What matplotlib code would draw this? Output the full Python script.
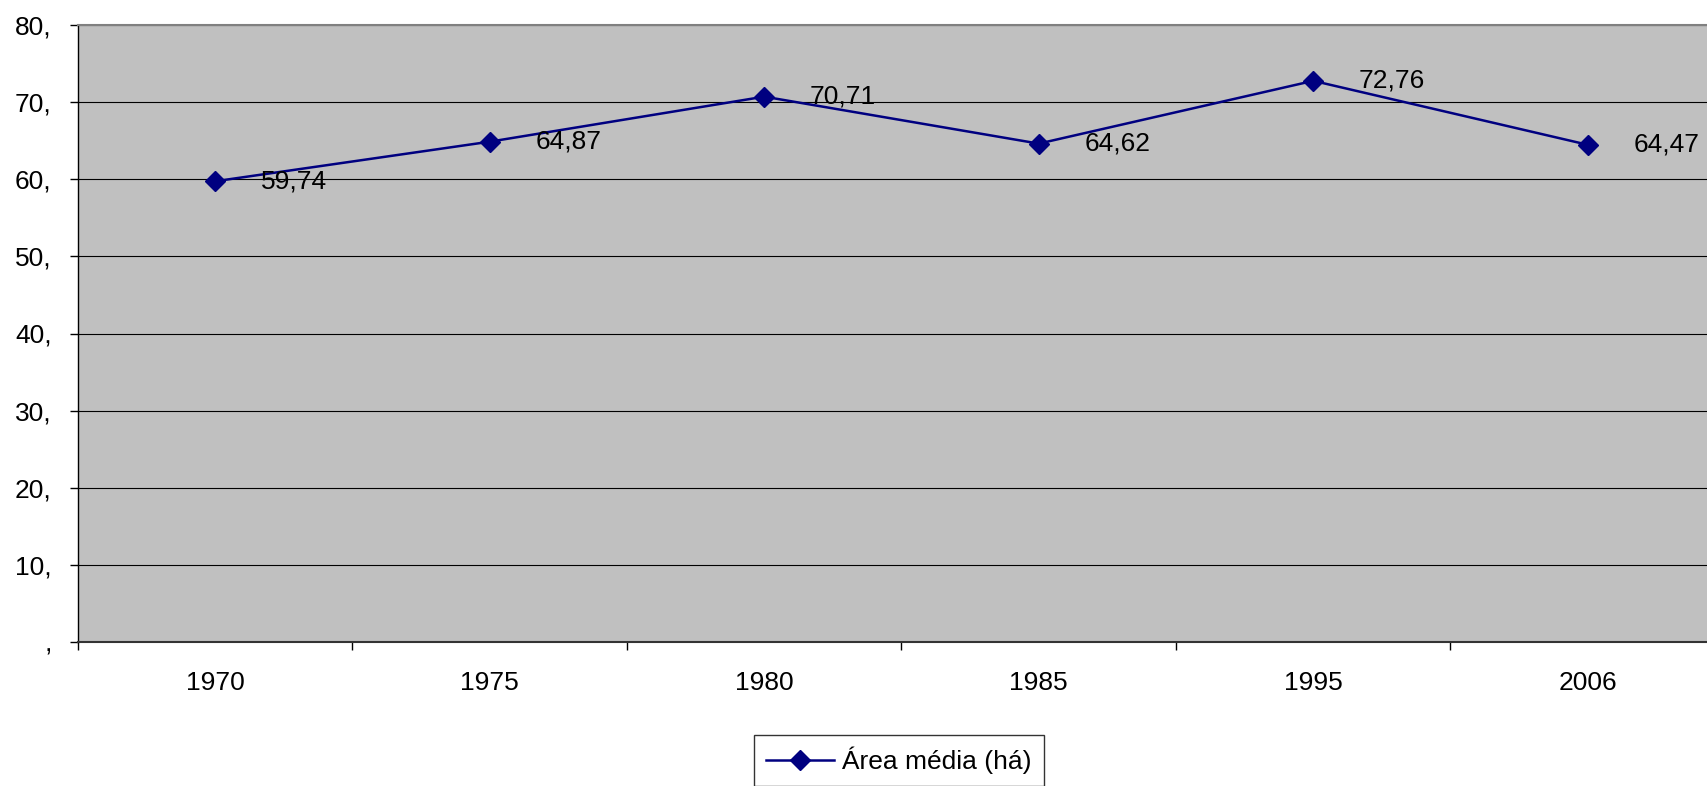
import matplotlib
matplotlib.use("Agg")
import matplotlib.pyplot as plt

years = ["1970", "1975", "1980", "1985", "1995", "2006"]
values = [59.74, 64.87, 70.71, 64.62, 72.76, 64.47]
labels = ["59,74", "64,87", "70,71", "64,62", "72,76", "64,47"]
yticks = [0, 10, 20, 30, 40, 50, 60, 70, 80]
yticklabels = [",", "10,", "20,", "30,", "40,", "50,", "60,", "70,", "80,"]
series_name = "Área média (há)"

plt.rcParams['font.family'] = ['Liberation Sans', 'DejaVu Sans']
FS = 19

W, H = 1708, 786
fig = plt.figure(figsize=(W / 100, H / 100), dpi=100)
left, right, top, bottom = 78, 78 + 6 * 274.5, 25, 642
ax = fig.add_axes([left / W, 1 - bottom / H, (right - left) / W, (bottom - top) / H])
ax.set_facecolor('#C0C0C0')

x = list(range(len(years)))
line, = ax.plot(x, values, color='#000080', lw=1.8, marker='D', ms=10,
                markerfacecolor='#000080', markeredgecolor='#000080', label=series_name, zorder=3)
for xi, v, lab in zip(x, values, labels):
    ax.annotate(lab, (xi, v), xytext=(33, 0), textcoords='offset points',
                ha='left', va='center', fontsize=FS, color='black', zorder=4)

ax.set_xlim(-0.5, len(years) - 0.5)
ax.set_ylim(0, 80)
ax.set_yticks(yticks)
ax.set_yticklabels(yticklabels)
ax.set_xticks([i - 0.5 for i in range(len(years))], minor=False)
ax.set_xticklabels([])
ax.set_xticks(x, minor=True)
ax.set_xticklabels(years, minor=True)
ax.tick_params(axis='x', which='minor', length=0, pad=21, labelsize=FS)
ax.tick_params(axis='x', which='major', length=6, width=1, color='black', direction='out')
ax.tick_params(axis='y', length=6, width=1, color='black', direction='out', pad=13, labelsize=FS)
ax.grid(axis='y', color='black', lw=0.8)
ax.set_axisbelow(True)
ax.spines['top'].set_color('#808080')
ax.spines['top'].set_linewidth(1.5)
ax.spines['right'].set_visible(False)
ax.spines['left'].set_color('black')
ax.spines['left'].set_linewidth(1)
ax.spines['bottom'].set_color('#333333')
ax.spines['bottom'].set_linewidth(1.5)

leg = fig.legend(handles=[line], loc='upper left', bbox_to_anchor=(754 / W, 1 - 735 / H),
                 frameon=True, fancybox=False, edgecolor='black', fontsize=FS,
                 handlelength=2.6, borderpad=0.45, handletextpad=0.3, borderaxespad=0)
leg.get_frame().set_linewidth(1)

fig.savefig('out.png', dpi=100)
